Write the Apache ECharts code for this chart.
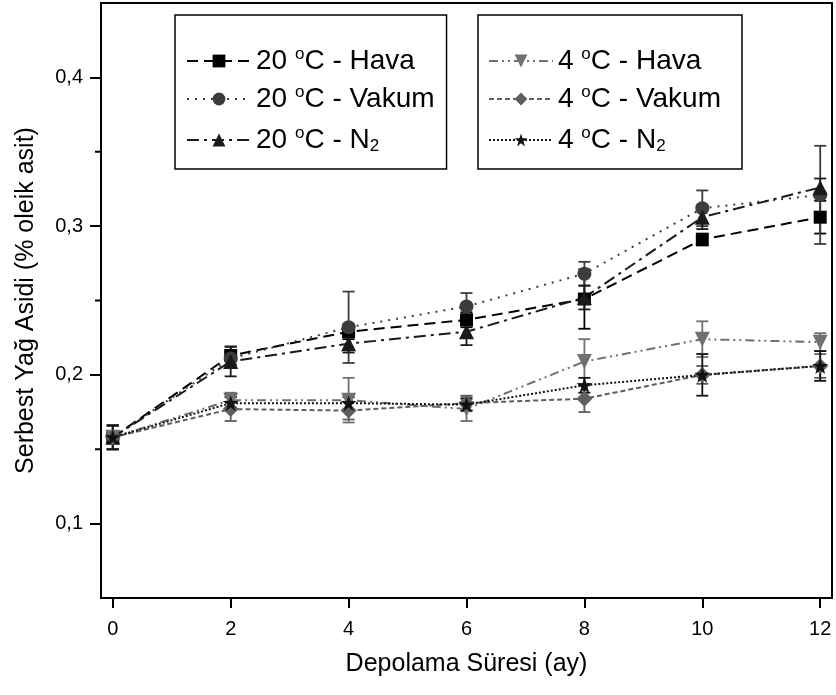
<!DOCTYPE html>
<html>
<head>
<meta charset="utf-8">
<script src="https://cdn.jsdelivr.net/npm/echarts@6/dist/echarts.min.js"></script>
<style>html,body{margin:0;padding:0;background:#fff;}#c{width:836px;height:695px;}</style>
</head>
<body>
<div id="c"></div>
<script>
// ---- data ----
const months = [0, 2, 4, 6, 8, 10, 12];
const xTicks = [0, 2, 4, 6, 8, 10, 12];
const yTicks = [0.1, 0.2, 0.3, 0.4];
const yMinorTicks = [0.15, 0.25, 0.35];

const seriesNames = ['20 °C - Hava', '20 °C - Vakum', '20 °C - N2', '4 °C - Hava', '4 °C - Vakum', '4 °C - N2'];
const legendLabels = ['20 {sup|o}C - Hava', '20 {sup|o}C - Vakum', '20 {sup|o}C - N{sub|2}', '4 {sup|o}C - Hava', '4 {sup|o}C - Vakum', '4 {sup|o}C - N{sub|2}'];

const hava20  = [0.158, 0.213, 0.229, 0.237, 0.251, 0.291, 0.306];
const vakum20 = [0.158, 0.211, 0.232, 0.246, 0.268, 0.312, 0.321];
const n2_20   = [0.158, 0.209, 0.221, 0.229, 0.252, 0.306, 0.326];
const hava4   = [0.158, 0.183, 0.183, 0.177, 0.209, 0.224, 0.222];
const vakum4  = [0.158, 0.177, 0.176, 0.181, 0.184, 0.200, 0.206];
const n2_4    = [0.158, 0.181, 0.181, 0.180, 0.193, 0.200, 0.206];

const hava20Err  = [0.008, 0.006, 0.005, 0.005, 0.020, 0.004, 0.011];
const vakum20Err = [0.008, 0.005, 0.024, 0.009, 0.008, 0.012, 0.033];
const n2_20Err   = [0.008, 0.010, 0.006, 0.009, 0.008, 0.008, 0.006];
const hava4Err   = [0.008, 0.005, 0.015, 0.008, 0.015, 0.012, 0.006];
const vakum4Err  = [0.008, 0.008, 0.006, 0.005, 0.009, 0.006, 0.008];
const n2_4Err    = [0.008, 0.004, 0.004, 0.004, 0.005, 0.014, 0.010];

// ---- styles ----
const FONT = 'Liberation Sans, Arial, sans-serif';
const X_MIN = -0.2, X_MAX = 12.2, Y_MIN = 0.05, Y_MAX = 0.45;
const STAR = 'path://M50,0 L61.8,35.4 L100,35.4 L69.1,57.3 L80.9,95.1 L50,72.6 L19.1,95.1 L30.9,57.3 L0,35.4 L38.2,35.4 Z';
const styles = [
  {color: '#000000', symbol: 'rect', size: 13, rotate: 0, dash: [11, 6]},
  {color: '#3c3c3c', symbol: 'circle', size: 14, rotate: 0, dash: [2, 6]},
  {color: '#1a1a1a', symbol: 'triangle', size: 15, rotate: 0, dash: [12, 5, 3, 5]},
  {color: '#707070', symbol: 'triangle', size: 15, rotate: 180, dash: [9, 4, 2, 4, 2, 4]},
  {color: '#5e5e5e', symbol: 'diamond', size: 16, rotate: 0, dash: [5, 3]},
  {color: '#111111', symbol: STAR, size: 16, rotate: 0, dash: [2, 2]}
];
const values = [hava20, vakum20, n2_20, hava4, vakum4, n2_4];
const errs = [hava20Err, vakum20Err, n2_20Err, hava4Err, vakum4Err, n2_4Err];

const chart = echarts.init(document.getElementById('c'), null, {renderer: 'canvas'});

const series = [];
values.forEach((vals, k) => {
  const st = styles[k];
  series.push({
    type: 'custom',
    name: seriesNames[k] + ' err',
    silent: true,
    z: 3,
    renderItem: function (params, api) {
      const x = api.value(0), lo = api.value(1), hi = api.value(2);
      const p1 = api.coord([x, lo]), p2 = api.coord([x, hi]);
      const w = 6;
      const s = {stroke: st.color, lineWidth: 1.8};
      return {type: 'group', children: [
        {type: 'line', shape: {x1: p1[0], y1: p1[1], x2: p2[0], y2: p2[1]}, style: s},
        {type: 'line', shape: {x1: p1[0] - w, y1: p1[1], x2: p1[0] + w, y2: p1[1]}, style: s},
        {type: 'line', shape: {x1: p2[0] - w, y1: p2[1], x2: p2[0] + w, y2: p2[1]}, style: s}
      ]};
    },
    data: months.map((m, i) => [m, vals[i] - errs[k][i], vals[i] + errs[k][i]])
  });
  series.push({
    type: 'line',
    name: seriesNames[k],
    z: 4,
    data: months.map((m, i) => [m, vals[i]]),
    symbol: st.symbol,
    symbolSize: st.size,
    symbolRotate: st.rotate,
    showAllSymbol: true,
    color: st.color,
    itemStyle: {color: st.color},
    lineStyle: {color: st.color, width: 2, type: st.dash},
    animation: false
  });
});

// minor ticks on the y axis (outside, shorter), placed through the axis scale
series.push({
  type: 'custom',
  name: 'minor ticks',
  silent: true,
  clip: false,
  z: 5,
  renderItem: function (params, api) {
    const p = api.coord([X_MIN, api.value(0)]);
    return {type: 'line', shape: {x1: p[0] - 6, y1: p[1], x2: p[0], y2: p[1]}, style: {stroke: '#000', lineWidth: 2}};
  },
  data: yMinorTicks.map(v => [v])
});

const legendBase = {
  orient: 'vertical',
  top: 15,
  itemGap: 5,
  itemWidth: 64,
  itemHeight: 16,
  borderColor: '#000',
  borderWidth: 1.5,
  backgroundColor: '#fff',
  selectedMode: false,
  textStyle: {
    fontFamily: FONT, fontSize: 28, color: '#000', lineHeight: 30,
    rich: {
      sup: {fontFamily: FONT, fontSize: 17, color: '#000', verticalAlign: 'top', lineHeight: 16, padding: [0, 0, 16, 0]},
      sub: {fontFamily: FONT, fontSize: 17, color: '#000', verticalAlign: 'bottom', lineHeight: 16, padding: [16, 0, 0, 0]}
    }
  },
  formatter: function (name) { return legendLabels[seriesNames.indexOf(name)]; }
};

const option = {
  backgroundColor: '#fff',
  animation: false,
  grid: {left: 101, top: 3, right: 4, bottom: 97, show: true, borderColor: '#000', borderWidth: 2, containLabel: false},
  legend: [
    Object.assign({}, legendBase, {left: 175, padding: [31, 12, 11, 11], data: seriesNames.slice(0, 3)}),
    Object.assign({}, legendBase, {left: 478, padding: [31, 21, 11, 10], data: seriesNames.slice(3, 6)})
  ],
  xAxis: {
    type: 'value', min: X_MIN, max: X_MAX,
    name: 'Depolama Süresi (ay)', nameLocation: 'middle', nameGap: 54,
    nameTextStyle: {fontFamily: FONT, fontSize: 25, color: '#000'},
    axisLine: {show: true, onZero: false, lineStyle: {color: '#000', width: 2}},
    axisTick: {show: true, inside: false, length: 10, lineStyle: {color: '#000', width: 2}, customValues: xTicks},
    axisLabel: {show: true, margin: 21, fontFamily: FONT, fontSize: 20, color: '#000', customValues: xTicks},
    splitLine: {show: false}
  },
  yAxis: {
    type: 'value', min: Y_MIN, max: Y_MAX,
    name: 'Serbest Yağ Asidi (% oleik asit)', nameLocation: 'middle', nameGap: 62,
    nameTextStyle: {fontFamily: FONT, fontSize: 25, color: '#000'},
    axisLine: {show: true, onZero: false, lineStyle: {color: '#000', width: 2}},
    axisTick: {show: true, inside: false, length: 11, lineStyle: {color: '#000', width: 2}, customValues: yTicks},
    axisLabel: {show: true, margin: 18, fontFamily: FONT, fontSize: 20, color: '#000', customValues: yTicks,
      formatter: function (v) { return v.toFixed(1).replace('.', ','); }},
    splitLine: {show: false}
  },
  series: series
};
chart.setOption(option);
</script>
</body>
</html>
